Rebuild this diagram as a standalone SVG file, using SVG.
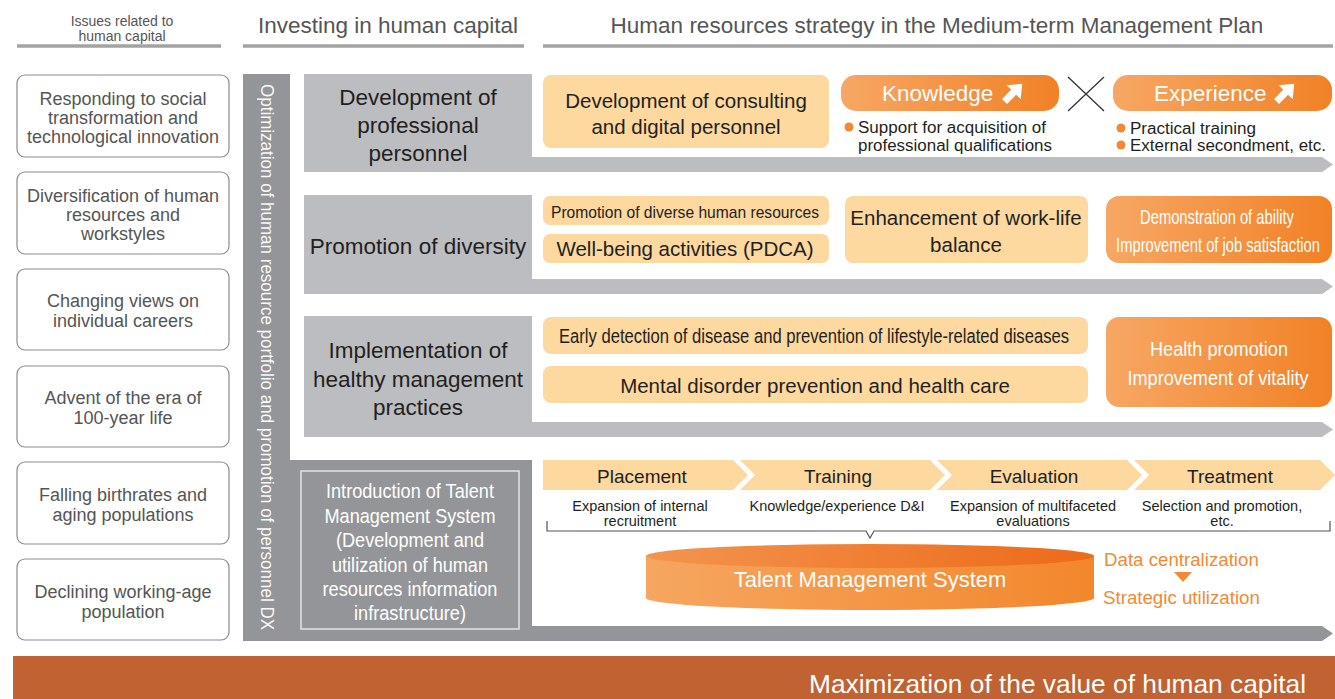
<svg xmlns="http://www.w3.org/2000/svg" width="1335" height="699" viewBox="0 0 1335 699">
  <defs>
    <style>
      text { font-family: "Liberation Sans", Arial, sans-serif; }
      .hdr-s { font-size: 14px; fill: #555; text-anchor: middle; }
      .hdr { font-size: 22.5px; fill: #555; text-anchor: middle; }
      .hline { stroke: #a3a3a3; stroke-width: 3.5; }
      .issue rect { fill: #fff; stroke: #8c8c8c; stroke-width: 1.2; }
      .issue text { font-size: 18px; fill: #555; text-anchor: middle; }
      .lgrey { fill: #bcbdc0; }
      .dgrey { fill: #939598; }
      .rowlbl { font-size: 22.5px; fill: #231f20; text-anchor: middle; }
      .peach { fill: #fdd9a0; }
      .dark { fill: #231f20; }
      .mid { text-anchor: middle; }
      .wht { fill: #fff; }
      .org { fill: #f18a33; }
      .bul { font-size: 16px; fill: #231f20; }
      .sub { font-size: 14.5px; fill: #231f20; text-anchor: middle; }
      .brk { fill: none; stroke: #555; stroke-width: 1.2; }
    </style>
    <linearGradient id="gOrange" x1="0" y1="0" x2="1" y2="0">
      <stop offset="0" stop-color="#f7a764"/>
      <stop offset="1" stop-color="#f18126"/>
    </linearGradient>
    <linearGradient id="gCylSide" x1="0" y1="0" x2="1" y2="0">
      <stop offset="0" stop-color="#f6a660"/>
      <stop offset="1" stop-color="#f2872c"/>
    </linearGradient>
    <linearGradient id="gCylTop" x1="0" y1="0" x2="1" y2="0">
      <stop offset="0" stop-color="#f3944e"/>
      <stop offset="1" stop-color="#ed6a18"/>
    </linearGradient>
    <!-- thick up-right arrow icon -->
    <path id="upArrow" d="M-12,-3.5 H1 V-10 L13,0 L1,10 V3.5 H-12 Z" fill="#fff" transform="rotate(-45)"/>
  </defs>

  <!-- column headings -->
  <g id="headings">
    <text class="hdr-s" x="122" y="26">Issues related to</text>
    <text class="hdr-s" x="122" y="41">human capital</text>
    <line class="hline" x1="17" y1="46" x2="221" y2="46"/>
    <text class="hdr" x="388" y="33">Investing in human capital</text>
    <line class="hline" x1="243" y1="46" x2="524" y2="46"/>
    <text class="hdr" x="937" y="33">Human resources strategy in the Medium-term Management Plan</text>
    <line class="hline" x1="543" y1="46" x2="1333" y2="46"/>
  </g>

  <!-- issues column -->
  <g id="issue-1" class="issue">
    <rect x="17" y="75" width="212" height="82" rx="8"/>
    <text x="123" y="105">Responding to social</text>
    <text x="123" y="124">transformation and</text>
    <text x="123" y="143">technological innovation</text>
  </g>
  <g id="issue-2" class="issue">
    <rect x="17" y="172" width="212" height="82" rx="8"/>
    <text x="123" y="202">Diversification of human</text>
    <text x="123" y="221">resources and</text>
    <text x="123" y="240">workstyles</text>
  </g>
  <g id="issue-3" class="issue">
    <rect x="17" y="269" width="212" height="81" rx="8"/>
    <text x="123" y="307">Changing views on</text>
    <text x="123" y="327">individual careers</text>
  </g>
  <g id="issue-4" class="issue">
    <rect x="17" y="366" width="212" height="81" rx="8"/>
    <text x="123" y="404">Advent of the era of</text>
    <text x="123" y="424">100-year life</text>
  </g>
  <g id="issue-5" class="issue">
    <rect x="17" y="462" width="212" height="82" rx="8"/>
    <text x="123" y="501">Falling birthrates and</text>
    <text x="123" y="521">aging populations</text>
  </g>
  <g id="issue-6" class="issue">
    <rect x="17" y="559" width="212" height="81" rx="8"/>
    <text x="123" y="598">Declining working-age</text>
    <text x="123" y="618">population</text>
  </g>

  <!-- strategy bands with arrow tails -->
  <g id="connectors">
    <path class="lgrey" d="M304,74 H532 V157 H1322 L1333,164.5 L1322,172 H304 Z"/>
    <path class="lgrey" d="M304,195 H532 V279 H1322 L1333,286.5 L1322,294 H304 Z"/>
    <path class="lgrey" d="M304,316 H532 V422 H1322 L1333,429.5 L1322,437 H304 Z"/>
    <path class="dgrey" d="M243,74 H290 V460 H532 V626 H1322 L1333,633.5 L1322,641 H243 Z"/>
  </g>

  <!-- vertical theme label -->
  <g id="theme-dx">
    <text class="wht" font-size="18" text-anchor="middle" dominant-baseline="central" transform="translate(266.5,357) rotate(90)" textLength="546" lengthAdjust="spacingAndGlyphs" fill-opacity="0.95">Optimization of human resource portfolio and promotion of personnel DX</text>
  </g>

  <!-- row 1: professional personnel -->
  <g id="row-professional">
    <text class="rowlbl" x="418" y="105">Development of</text>
    <text class="rowlbl" x="418" y="133">professional</text>
    <text class="rowlbl" x="418" y="161">personnel</text>
  </g>
  <g id="consulting-digital">
    <rect class="peach" x="543" y="75" width="286" height="73" rx="8"/>
    <text class="dark mid" font-size="20.5" x="686" y="108">Development of consulting</text>
    <text class="dark mid" font-size="20.5" x="686" y="134">and digital personnel</text>
  </g>
  <g id="knowledge">
    <rect x="841" y="75" width="218" height="36" rx="15" fill="url(#gOrange)"/>
    <text class="wht" font-size="22.5" x="882" y="101">Knowledge</text>
    <use href="#upArrow" transform="translate(1013,93)"/>
    <circle class="org" cx="849" cy="127" r="4.5"/>
    <text class="bul" x="858" y="133" textLength="188" lengthAdjust="spacingAndGlyphs">Support for acquisition of</text>
    <text class="bul" x="858" y="151" textLength="194" lengthAdjust="spacingAndGlyphs">professional qualifications</text>
  </g>
  <g id="times-sign">
    <path d="M1068,77 L1104,111 M1104,77 L1068,111" stroke="#333" stroke-width="1.3" fill="none"/>
  </g>
  <g id="experience">
    <rect x="1113" y="75" width="219" height="36" rx="15" fill="url(#gOrange)"/>
    <text class="wht" font-size="22.5" x="1154" y="101">Experience</text>
    <use href="#upArrow" transform="translate(1285,93)"/>
    <circle class="org" cx="1121" cy="128" r="4.5"/>
    <text class="bul" x="1130" y="134" textLength="126" lengthAdjust="spacingAndGlyphs">Practical training</text>
    <circle class="org" cx="1121" cy="145" r="4.5"/>
    <text class="bul" x="1130" y="151" textLength="196" lengthAdjust="spacingAndGlyphs">External secondment, etc.</text>
  </g>

  <!-- row 2: diversity -->
  <g id="row-diversity">
    <text class="rowlbl" x="418" y="254">Promotion of diversity</text>
  </g>
  <g id="diverse-hr">
    <rect class="peach" x="543" y="196" width="286" height="29" rx="7"/>
    <text class="dark mid" font-size="17" x="685" y="218" textLength="268" lengthAdjust="spacingAndGlyphs">Promotion of diverse human resources</text>
  </g>
  <g id="well-being">
    <rect class="peach" x="543" y="234" width="286" height="29" rx="7"/>
    <text class="dark mid" font-size="20.5" x="685" y="256">Well-being activities (PDCA)</text>
  </g>
  <g id="work-life">
    <rect class="peach" x="845" y="196" width="243" height="67" rx="8"/>
    <text class="dark mid" font-size="20.5" x="966" y="225">Enhancement of work-life</text>
    <text class="dark mid" font-size="20.5" x="966" y="252">balance</text>
  </g>
  <g id="ability">
    <rect x="1106" y="196" width="226" height="67" rx="13" fill="url(#gOrange)"/>
    <!-- narrow-set lines, compressed horizontally -->
    <text class="wht mid" font-size="20" transform="translate(1217,224) scale(0.737,1)">Demonstration of ability</text>
    <text class="wht mid" font-size="20" transform="translate(1218,252) scale(0.737,1)">Improvement of job satisfaction</text>
  </g>

  <!-- row 3: health management -->
  <g id="row-health">
    <text class="rowlbl" x="418" y="358">Implementation of</text>
    <text class="rowlbl" x="418" y="387">healthy management</text>
    <text class="rowlbl" x="418" y="415">practices</text>
  </g>
  <g id="early-detection">
    <rect class="peach" x="543" y="317" width="545" height="37" rx="8"/>
    <text class="dark mid" font-size="19.5" x="814" y="343" textLength="510" lengthAdjust="spacingAndGlyphs">Early detection of disease and prevention of lifestyle-related diseases</text>
  </g>
  <g id="mental-health">
    <rect class="peach" x="543" y="366" width="545" height="37" rx="8"/>
    <text class="dark mid" font-size="20.5" x="815" y="393">Mental disorder prevention and health care</text>
  </g>
  <g id="vitality">
    <rect x="1106" y="317" width="226" height="90" rx="13" fill="url(#gOrange)"/>
    <text class="wht mid" font-size="21" x="1219" y="356" textLength="138" lengthAdjust="spacingAndGlyphs">Health promotion</text>
    <text class="wht mid" font-size="21" x="1218" y="385" textLength="181" lengthAdjust="spacingAndGlyphs">Improvement of vitality</text>
  </g>

  <!-- row 4: talent management -->
  <g id="tms-intro">
    <rect x="301" y="471" width="218" height="158" fill="none" stroke="#e4e4e4" stroke-width="1.5"/>
    <g class="wht" font-size="20.5" text-anchor="middle">
      <text x="410" y="498" textLength="168" lengthAdjust="spacingAndGlyphs">Introduction of Talent</text>
      <text x="410" y="523" textLength="171" lengthAdjust="spacingAndGlyphs">Management System</text>
      <text x="410" y="547" textLength="148" lengthAdjust="spacingAndGlyphs">(Development and</text>
      <text x="410" y="572" textLength="156" lengthAdjust="spacingAndGlyphs">utilization of human</text>
      <text x="410" y="596" textLength="175" lengthAdjust="spacingAndGlyphs">resources information</text>
      <text x="410" y="620" textLength="112" lengthAdjust="spacingAndGlyphs">infrastructure)</text>
    </g>
  </g>
  <g id="placement">
    <path class="peach" d="M543,460 H733 L748,475 L733,490 H543 Z"/>
    <text class="dark mid" font-size="19" x="642" y="483">Placement</text>
    <text class="sub" x="640" y="511">Expansion of internal</text>
    <text class="sub" x="640" y="526">recruitment</text>
  </g>
  <g id="training">
    <path class="peach" d="M740,460 H930 L945,475 L930,490 H740 L755,475 Z"/>
    <text class="dark mid" font-size="19" x="838" y="483">Training</text>
    <text class="sub" x="837" y="511">Knowledge/experience D&amp;I</text>
  </g>
  <g id="evaluation">
    <path class="peach" d="M937,460 H1127 L1142,475 L1127,490 H937 L952,475 Z"/>
    <text class="dark mid" font-size="19" x="1034" y="483">Evaluation</text>
    <text class="sub" x="1033" y="511">Expansion of multifaceted</text>
    <text class="sub" x="1033" y="526">evaluations</text>
  </g>
  <g id="treatment">
    <path class="peach" d="M1134,460 H1320 L1335,475 L1320,490 H1134 L1149,475 Z"/>
    <text class="dark mid" font-size="19" x="1230" y="483">Treatment</text>
    <text class="sub" x="1222" y="511">Selection and promotion,</text>
    <text class="sub" x="1222" y="526">etc.</text>
  </g>
  <g id="process-bracket">
    <path class="brk" d="M547,521 V531 H866 L870,538 L874,531 H1330 V521"/>
  </g>
  <g id="tms-database">
    <path d="M646,556 V598 A224,12 0 0 0 1094,598 V556 Z" fill="url(#gCylSide)"/>
    <ellipse cx="870" cy="556" rx="224" ry="12" fill="url(#gCylTop)"/>
    <text class="wht mid" font-size="22" x="870" y="587">Talent Management System</text>
  </g>
  <g id="data-flow">
    <text class="org" font-size="18.7" x="1104" y="566">Data centralization</text>
    <polygon class="org" points="1174,572 1192,572 1183,582"/>
    <text class="org" font-size="18.7" x="1103" y="604">Strategic utilization</text>
  </g>

  <!-- outcome banner -->
  <g id="outcome">
    <rect x="13" y="656" width="1322" height="43" fill="#c06232"/>
    <text class="wht" font-size="26.3" text-anchor="end" x="1306" y="693">Maximization of the value of human capital</text>
  </g>
</svg>
